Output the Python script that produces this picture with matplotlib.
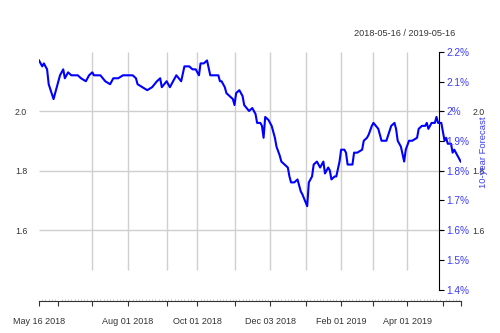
import matplotlib

matplotlib.use("Agg")
import matplotlib.pyplot as plt  # noqa: E402
import numpy as np  # noqa: E402

plt.rcParams["font.family"] = ["Liberation Sans", "DejaVu Sans"]

# 10-year forecast, daily readings (percent)
dates = [
    "2018-05-16", "2018-05-18", "2018-05-21", "2018-05-23", "2018-05-24", "2018-05-29",
    "2018-05-31", "2018-06-04", "2018-06-06", "2018-06-07", "2018-06-11", "2018-06-13",
    "2018-06-19", "2018-06-21", "2018-06-26", "2018-06-28", "2018-07-02", "2018-07-03",
    "2018-07-09", "2018-07-12", "2018-07-17", "2018-07-19", "2018-07-24", "2018-07-27",
    "2018-08-01", "2018-08-06", "2018-08-08", "2018-08-09", "2018-08-14", "2018-08-17",
    "2018-08-22", "2018-08-27", "2018-08-29", "2018-08-30", "2018-09-04", "2018-09-06",
    "2018-09-10", "2018-09-12", "2018-09-17", "2018-09-19", "2018-09-24", "2018-09-26",
    "2018-09-28", "2018-10-02", "2018-10-03", "2018-10-05", "2018-10-09", "2018-10-11",
    "2018-10-16", "2018-10-18", "2018-10-19", "2018-10-22", "2018-10-24", "2018-10-25",
    "2018-10-29", "2018-10-31", "2018-11-01", "2018-11-02", "2018-11-06", "2018-11-08",
    "2018-11-09", "2018-11-14", "2018-11-16", "2018-11-20", "2018-11-21", "2018-11-23",
    "2018-11-26", "2018-11-27", "2018-11-28", "2018-11-30", "2018-12-04", "2018-12-06",
    "2018-12-07", "2018-12-11", "2018-12-12", "2018-12-14", "2018-12-18", "2018-12-19",
    "2018-12-20", "2018-12-24", "2018-12-26", "2018-12-28", "2018-12-31", "2019-01-03",
    "2019-01-04", "2019-01-08", "2019-01-09", "2019-01-11", "2019-01-15", "2019-01-16",
    "2019-01-17", "2019-01-18", "2019-01-22", "2019-01-23", "2019-01-24", "2019-01-28",
    "2019-01-29", "2019-01-31", "2019-02-01", "2019-02-05", "2019-02-06", "2019-02-07",
    "2019-02-12", "2019-02-13", "2019-02-15", "2019-02-20", "2019-02-21", "2019-02-25",
    "2019-02-26", "2019-02-28", "2019-03-01", "2019-03-06", "2019-03-08", "2019-03-13",
    "2019-03-18", "2019-03-20", "2019-03-21", "2019-03-22", "2019-03-26", "2019-03-28",
    "2019-03-29", "2019-04-02", "2019-04-04", "2019-04-09", "2019-04-10", "2019-04-12",
    "2019-04-16", "2019-04-17", "2019-04-18", "2019-04-22", "2019-04-24", "2019-04-25",
    "2019-04-26", "2019-04-30", "2019-05-02", "2019-05-03", "2019-05-06", "2019-05-08",
    "2019-05-09", "2019-05-10", "2019-05-13", "2019-05-15", "2019-05-16",
]
values = [
    2.17, 2.15, 2.16, 2.14, 2.09, 2.04,
    2.08, 2.12, 2.14, 2.11, 2.13, 2.12,
    2.12, 2.11, 2.10, 2.12, 2.13, 2.12,
    2.12, 2.10, 2.09, 2.11, 2.11, 2.12,
    2.12, 2.12, 2.11, 2.09, 2.08, 2.07,
    2.08, 2.10, 2.11, 2.08, 2.10, 2.08,
    2.10, 2.12, 2.10, 2.15, 2.15, 2.14,
    2.14, 2.12, 2.16, 2.16, 2.17, 2.12,
    2.12, 2.12, 2.10, 2.10, 2.08, 2.06,
    2.05, 2.04, 2.02, 2.06, 2.07, 2.05,
    2.02, 2.00, 2.01, 1.99, 1.96, 1.96,
    1.95, 1.91, 1.98, 1.97, 1.95, 1.91,
    1.88, 1.85, 1.83, 1.82, 1.81, 1.78,
    1.76, 1.76, 1.77, 1.73, 1.72, 1.68,
    1.76, 1.78, 1.82, 1.83, 1.81, 1.82,
    1.83, 1.79, 1.81, 1.80, 1.77, 1.78,
    1.78, 1.83, 1.87, 1.87, 1.86, 1.82,
    1.82, 1.86, 1.86, 1.87, 1.90, 1.91,
    1.92, 1.95, 1.96, 1.94, 1.90, 1.90,
    1.95, 1.96, 1.94, 1.90, 1.88, 1.83,
    1.87, 1.90, 1.90, 1.91, 1.94, 1.95,
    1.95, 1.96, 1.94, 1.96, 1.96, 1.98,
    1.96, 1.96, 1.90, 1.91, 1.89, 1.89,
    1.86, 1.87, 1.86, 1.84, 1.83,
]

start, end = "2018-05-16", "2019-05-16"
tick_dates = [
    "2018-05-16", "2018-06-01", "2018-07-02", "2018-08-01", "2018-09-04", "2018-10-01",
    "2018-11-01", "2018-12-03", "2019-01-02", "2019-02-01", "2019-03-01", "2019-04-01",
    "2019-05-01", "2019-05-16",
]
labelled = {
    "2018-05-16": "May 16 2018", "2018-08-01": "Aug 01 2018", "2018-10-01": "Oct 01 2018",
    "2018-12-03": "Dec 03 2018", "2019-02-01": "Feb 01 2019", "2019-04-01": "Apr 01 2019",
}
grid_dates = tick_dates[2:12]
left_ticks = [1.6, 1.8, 2.0]
right_ticks = [1.4, 1.5, 1.6, 1.7, 1.8, 1.9, 2.0, 2.1, 2.2]
right_labels = ["1.4%", "1.5%", "1.6%", "1.7%", "1.8%", "1.9%", "2%", "2.1%", "2.2%"]

BLUE = "#0000ff"
LABEL_BLUE = "#3c3cff"
GRID = "#cfcfcf"
INK = "#333333"
W, H = 500, 333


def day_index(d):
    return np.busday_count(np.datetime64(start), np.datetime64(d))


x = [day_index(d) for d in dates]
n_days = day_index(end)

# vertical pixel anchors of the value scale (2.0 at y=111, 0.2 per 59.5 px)
def val_at(py):
    return 2.0 + (111 - py) / 297.5


top_px, bot_px, left_px, right_px = 52, 300.5, 39, 460.7
ylim = (val_at(bot_px), val_at(top_px))

fig = plt.figure(figsize=(W / 100, H / 100), dpi=100)
ax = fig.add_axes([left_px / W, 1 - bot_px / H, (right_px - left_px) / W, (bot_px - top_px) / H])
ax.set_xlim(0, n_days)
ax.set_ylim(*ylim)
ax.patch.set_alpha(0)
for side in ("top", "left", "right"):
    ax.spines[side].set_visible(False)
ax.spines["bottom"].set_color(INK)
ax.spines["bottom"].set_linewidth(0.8)

# grid
ax.hlines(left_ticks, 0, (443 - left_px) / (right_px - left_px),
          transform=ax.get_yaxis_transform(), color=GRID, lw=1, zorder=1)
ax.vlines([day_index(d) for d in grid_dates], val_at(270), ylim[1], color=GRID, lw=1, zorder=1)

ax.plot(x, values, color=BLUE, lw=1.5, zorder=3, solid_joinstyle="round")

# x axis
ax.set_xticks([day_index(d) for d in tick_dates])
ax.set_xticklabels([labelled.get(d, "") for d in tick_dates])
ax.set_xticks(np.arange(0, n_days + 1, 2), minor=True)
ax.tick_params(axis="x", which="major", length=3.5, width=0.8, color=INK,
               labelsize=6.5, labelcolor=INK, pad=8.5)
ax.tick_params(axis="x", which="minor", direction="in", length=1.5, width=0.6, color="#c0c0c0")

# left values, repeated on the right
ax.set_yticks(left_ticks)
ax.set_yticklabels([f"{v:.1f}" for v in left_ticks])
ax.tick_params(axis="y", length=0, labelsize=6.3, labelcolor=INK, pad=8.5,
               labelleft=True, labelright=True)

# overlaid percent axis
ax2 = fig.add_axes([left_px / W, 1 - bot_px / H, (439 - left_px) / W, (bot_px - top_px) / H])
ax2.patch.set_alpha(0)
ax2.set_ylim(*ylim)
ax2.set_xticks([])
for side in ("top", "left", "bottom"):
    ax2.spines[side].set_visible(False)
ax2.spines["right"].set_bounds(1.4, 2.2)
ax2.spines["right"].set_color("black")
ax2.spines["right"].set_linewidth(0.8)
ax2.yaxis.tick_right()
ax2.set_yticks(right_ticks)
ax2.set_yticklabels(right_labels)
ax2.tick_params(axis="y", length=3.5, width=0.8, color="black", labelsize=7.3,
                labelcolor=LABEL_BLUE, pad=2)

fig.text(483 / W, 1 - 152 / H, "10-year Forecast", rotation=90, color=LABEL_BLUE,
         fontsize=6.8, ha="center", va="center")
fig.text(405 / W, 1 - 34 / H, "2018-05-16 / 2019-05-16", color=INK,
         fontsize=6.6, ha="center", va="center")

fig.savefig("out.png", dpi=100)
